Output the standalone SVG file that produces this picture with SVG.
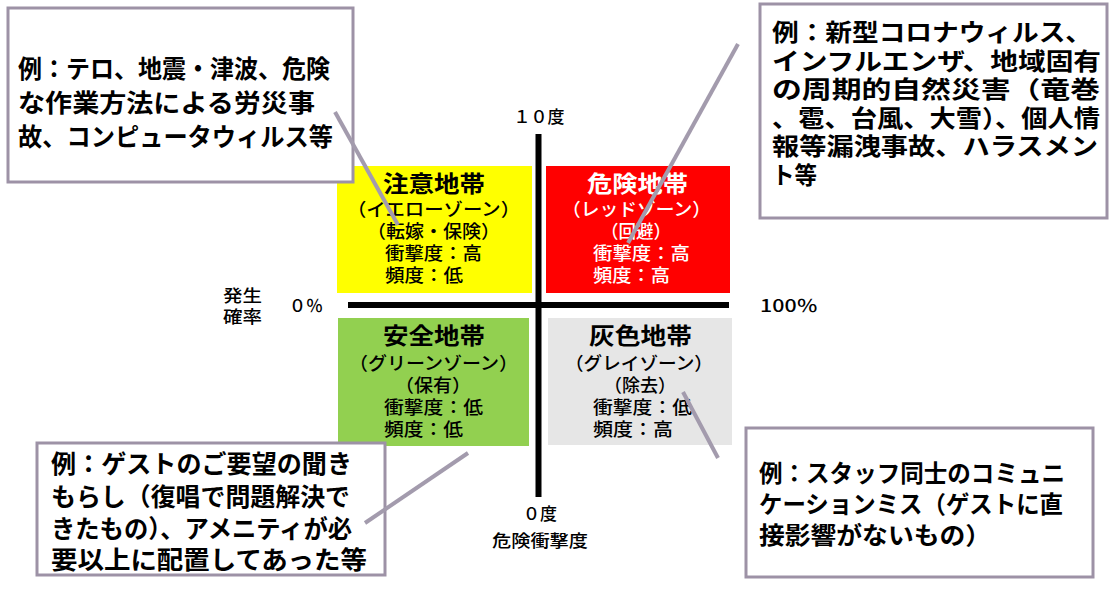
<svg xmlns="http://www.w3.org/2000/svg" width="1112" height="595" viewBox="0 0 1112 595">
<style>
text{font-family:"Noto Sans CJK JP","Noto Sans",sans-serif;fill:#000}
.ttl{font-size:23px;font-weight:bold}
.sub{font-size:18px;font-weight:500}
.wh{fill:#fff}
.co{font-size:25px;font-weight:bold}
.cs{font-size:24px;font-weight:bold}
.ax{font-size:17px;font-weight:500}
.box{fill:#fff;stroke:#9d92a6;stroke-width:3}
.ptr{stroke:#a39bad;stroke-width:4;fill:none}
.axis{stroke:#000;stroke-width:6}
</style>
<rect width="1112" height="595" fill="#fff"/>

<g id="zone-yellow">
<rect x="337" y="166" width="195" height="127" fill="#ffff00"/>
<text class="ttl" x="383" y="192" textLength="102" lengthAdjust="spacingAndGlyphs">注意地帯</text>
<text class="sub" x="347" y="216" textLength="173" lengthAdjust="spacingAndGlyphs">（イエローゾーン）</text>
<text class="sub" x="367" y="238" textLength="133" lengthAdjust="spacingAndGlyphs">（転嫁・保険）</text>
<text class="sub" x="385" y="260" textLength="97" lengthAdjust="spacingAndGlyphs">衝撃度：高</text>
<text class="sub" x="385" y="282" textLength="78" lengthAdjust="spacingAndGlyphs">頻度：低</text>
</g>

<g id="zone-red">
<rect x="546" y="166" width="184" height="127" fill="#ff0000"/>
<text class="ttl wh" x="587" y="192" textLength="101" lengthAdjust="spacingAndGlyphs">危険地帯</text>
<text class="sub wh" x="562" y="216" textLength="149" lengthAdjust="spacingAndGlyphs">（レッドゾーン）</text>
<text class="sub wh" x="601" y="238" textLength="70" lengthAdjust="spacingAndGlyphs">（回避）</text>
<text class="sub wh" x="593" y="260" textLength="97" lengthAdjust="spacingAndGlyphs">衝撃度：高</text>
<text class="sub wh" x="593" y="282" textLength="77" lengthAdjust="spacingAndGlyphs">頻度：高</text>
</g>

<g id="zone-green">
<rect x="338" y="318" width="191" height="128" fill="#92d050"/>
<text class="ttl" x="383" y="344" textLength="102" lengthAdjust="spacingAndGlyphs">安全地帯</text>
<text class="sub" x="349" y="370" textLength="169" lengthAdjust="spacingAndGlyphs">（グリーンゾーン）</text>
<text class="sub" x="395" y="392" textLength="76" lengthAdjust="spacingAndGlyphs">（保有）</text>
<text class="sub" x="384" y="414" textLength="99" lengthAdjust="spacingAndGlyphs">衝撃度：低</text>
<text class="sub" x="384" y="436" textLength="79" lengthAdjust="spacingAndGlyphs">頻度：低</text>
</g>

<g id="zone-gray">
<rect x="548" y="318" width="184" height="127" fill="#e6e6e6"/>
<text class="ttl" x="589" y="344" textLength="103" lengthAdjust="spacingAndGlyphs">灰色地帯</text>
<text class="sub" x="565" y="370" textLength="148" lengthAdjust="spacingAndGlyphs">（グレイゾーン）</text>
<text class="sub" x="604" y="392" textLength="72" lengthAdjust="spacingAndGlyphs">（除去）</text>
<text class="sub" x="593" y="414" textLength="99" lengthAdjust="spacingAndGlyphs">衝撃度：低</text>
<text class="sub" x="593" y="436" textLength="80" lengthAdjust="spacingAndGlyphs">頻度：高</text>
</g>

<g id="axes">
<line class="axis" x1="538.5" y1="134" x2="538.5" y2="497"/>
<line class="axis" x1="348" y1="305" x2="729" y2="305"/>
<text class="ax" x="539" y="123" text-anchor="middle" font-size="18">１０度</text>
<text class="ax" x="540" y="520" text-anchor="middle">０度</text>
<text class="ax" x="492" y="547" textLength="96" lengthAdjust="spacingAndGlyphs">危険衝撃度</text>
<text class="ax" x="223" y="302" textLength="39" lengthAdjust="spacingAndGlyphs">発生</text>
<text class="ax" x="223" y="323" textLength="39" lengthAdjust="spacingAndGlyphs">確率</text>
<text class="ax" x="289" y="312" textLength="34" lengthAdjust="spacingAndGlyphs">０％</text>
<text class="ax" x="760" y="312" textLength="58" lengthAdjust="spacingAndGlyphs">100％</text>
</g>

<g id="callout-top-left">
<rect class="box" x="8" y="8" width="345" height="174"/>
<text class="co" font-size="26" x="18" y="78" textLength="312" lengthAdjust="spacingAndGlyphs">例：テロ、地震・津波、危険</text>
<text class="co" font-size="26" x="18" y="112" textLength="297" lengthAdjust="spacingAndGlyphs">な作業方法による労災事</text>
<text class="co" font-size="26" x="18" y="146" textLength="315" lengthAdjust="spacingAndGlyphs">故、コンピュータウィルス等</text>
</g>

<g id="callout-top-right">
<rect class="box" x="760" y="4" width="347" height="214"/>
<text class="cs" x="772" y="41" textLength="320" lengthAdjust="spacingAndGlyphs">例：新型コロナウィルス、</text>
<text class="cs" x="772" y="69.5" textLength="329" lengthAdjust="spacingAndGlyphs">インフルエンザ、地域固有</text>
<text class="cs" x="772" y="98" textLength="328" lengthAdjust="spacingAndGlyphs">の周期的自然災害（竜巻</text>
<text class="cs" x="772" y="126.5" textLength="328" lengthAdjust="spacingAndGlyphs">、雹、台風、大雪）、個人情</text>
<text class="cs" x="772" y="155" textLength="326" lengthAdjust="spacingAndGlyphs">報等漏洩事故、ハラスメン</text>
<text class="cs" x="772" y="183.5" textLength="45" lengthAdjust="spacingAndGlyphs">ト等</text>
</g>

<g id="callout-bottom-left">
<rect class="box" x="37" y="443" width="348" height="132"/>
<text class="co" x="51" y="473" textLength="301" lengthAdjust="spacingAndGlyphs">例：ゲストのご要望の聞き</text>
<text class="co" x="51" y="506" textLength="299" lengthAdjust="spacingAndGlyphs">もらし（復唱で問題解決で</text>
<text class="co" x="51" y="538" textLength="301" lengthAdjust="spacingAndGlyphs">きたもの）、アメニティが必</text>
<text class="co" x="51" y="569" textLength="316" lengthAdjust="spacingAndGlyphs">要以上に配置してあった等</text>
</g>

<g id="callout-bottom-right">
<rect class="box" x="746" y="428" width="347" height="149"/>
<text class="cs" x="759" y="482" textLength="306" lengthAdjust="spacingAndGlyphs">例：スタッフ同士のコミュニ</text>
<text class="cs" x="759" y="513" textLength="304" lengthAdjust="spacingAndGlyphs">ケーションミス（ゲストに直</text>
<text class="cs" x="759" y="544" textLength="232" lengthAdjust="spacingAndGlyphs">接影響がないもの）</text>
</g>

<g id="connectors">
<line class="ptr" x1="335" y1="112" x2="398" y2="225"/>
<line class="ptr" x1="738" y1="44" x2="628" y2="243"/>
<line class="ptr" x1="365" y1="523" x2="468" y2="453"/>
<line class="ptr" x1="683" y1="392" x2="718" y2="458"/>
</g>
</svg>
